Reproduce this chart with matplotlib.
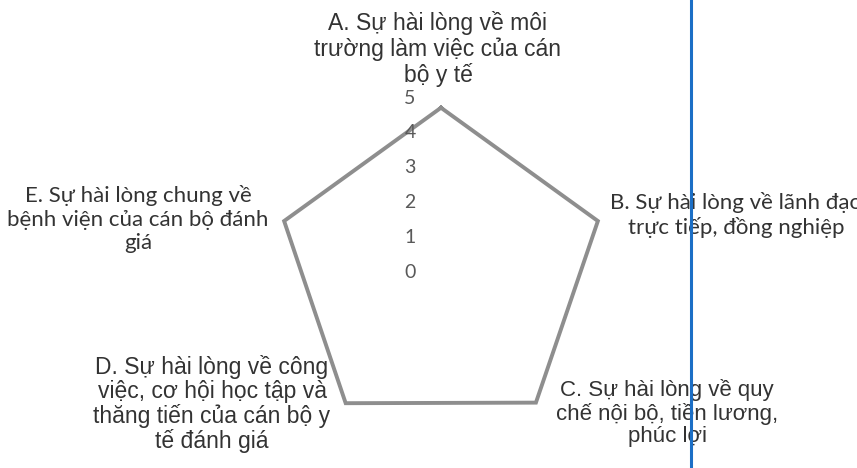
import numpy as np
import matplotlib.pyplot as plt
from matplotlib.lines import Line2D
from matplotlib.transforms import offset_copy

categories = [
    "A. Sự hài lòng về môi\ntrường làm việc của cán\nbộ y tế",
    "B. Sự hài lòng về lãnh đạo\ntrực tiếp, đồng nghiệp",
    "C. Sự hài lòng về quy\nchế nội bộ, tiền lương,\nphúc lợi",
    "D. Sự hài lòng về công\nviệc, cơ hội học tập và\nthăng tiến của cán bộ y\ntế đánh giá",
    "E. Sự hài lòng chung về\nbệnh viện của cán bộ đánh\ngiá",
]
scores = [4.72, 4.74, 4.64, 4.66, 4.74]
r_ticks = [0, 1, 2, 3, 4, 5]

W, H = 857, 468
fig = plt.figure(figsize=(W / 100, H / 100), dpi=100)

# polar axes: centre at (441, 272) px, radius 5 -> 174 px
cx, cy, rad = 441, 272, 174
ax = fig.add_axes([(cx - rad) / W, (H - cy - rad) / H, 2 * rad / W, 2 * rad / H],
                  projection='polar')
ax.set_theta_zero_location('N')
ax.set_theta_direction(-1)
ax.set_ylim(0, 5)
ax.grid(False)
ax.set_xticks([])
ax.set_yticks([])
ax.spines['polar'].set_visible(False)
ax.patch.set_alpha(0)

angles = np.linspace(0, 2 * np.pi, len(scores), endpoint=False)
ax.plot(np.append(angles, angles[0]), scores + scores[:1],
        color='#8e8e8e', lw=2.8, solid_joinstyle='miter')

# value labels sit left of the top spoke
trans = offset_copy(ax.transData, fig=fig, x=-31, y=0, units='dots')
for r in r_ticks:
    ax.text(0, r, str(r), transform=trans, ha='center', va='center',
            fontsize=14, color='#595959', family='Lato')

# category labels: (x, y) of block centre in pixels, font, size, spacing
label_pos = [
    (438, 49, 'Liberation Sans', 16.5, 1.1),
    (736, 215, 'Lato', 16, 1.2),
    (667, 413, 'Liberation Sans', 16, 1.1),
    (212, 404, 'Liberation Sans', 16.5, 1.05),
    (138, 219, 'Lato', 16, 1.2),
]
for text, (x, y, fam, fs, ls) in zip(categories, label_pos):
    fig.text(x / W, 1 - y / H, text, ha='center', va='center', fontsize=fs,
             family=fam, color='#333333', linespacing=ls)

# blue vertical line from the scanned page
fig.add_artist(Line2D([691 / W, 691 / W], [0, 1], transform=fig.transFigure,
                      color='#1c6fc6', lw=2.2, zorder=10))

fig.savefig('out.png', dpi=100)
